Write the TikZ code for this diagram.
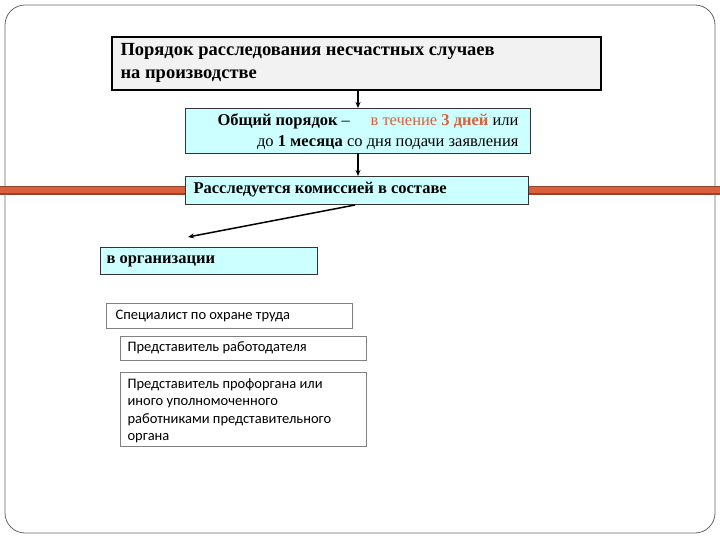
\documentclass[tikz,border=0pt]{standalone}
\usepackage{fontspec}
\setmainfont{Liberation Serif}
\newfontfamily\calfnt{Carlito}
\usetikzlibrary{arrows.meta}
\definecolor{cy}{HTML}{CCFFFF}
\definecolor{orng}{HTML}{D9603B}
\tikzset{
 cbox/.style={draw=black!80,fill=cy,line width=0.8pt,inner sep=0pt},
 wbox/.style={draw=black!50,fill=white,line width=0.6pt,inner sep=0pt},
 arr/.style={-{Stealth[length=6pt,width=5pt]},line width=1.2pt}
}
\begin{document}
\begin{tikzpicture}[x=1pt,y=-1pt]
\useasboundingbox (0,0) rectangle (720,540);
\draw[black!60,line width=0.8pt,rounded corners=20pt,fill=white] (5,5) rectangle (715,533);
\fill[orng] (0,186) rectangle (720,195);
\fill[orng!70!black] (0,186) rectangle (720,187.5);
\fill[orng!70!black] (0,193.5) rectangle (720,195);
% boxes
\draw[fill=black!5,line width=2pt] (112,37) rectangle (601,90);
\node[anchor=north west,align=left,font=\bfseries\fontsize{18.5}{23}\selectfont] (t) at (117,40) {Порядок расследования несчастных случаев\\на производстве};
\coordinate (tb) at (358,90);
\draw[cbox] (185,108) rectangle (530,153);
\node[anchor=north east,align=right,font=\fontsize{16.5}{21}\selectfont] (g) at (522,110) {\textbf{Общий порядок} -- \quad \textcolor{orng}{в течение \textbf{3 дней}} или\\до \textbf{1 месяца} со дня подачи заявления};
\coordinate (gt) at (358,108);
\coordinate (gb) at (358,153);
\draw[cbox] (185,176) rectangle (528,204);
\node[anchor=west,font=\bfseries\fontsize{16.5}{20}\selectfont] (r) at (190,190) {Расследуется комиссией в составе};
\coordinate (rt) at (358,176);
\coordinate (rb) at (355,205);
\draw[cbox] (100,247) rectangle (317,274);
\node[anchor=west,font=\bfseries\fontsize{16.5}{20}\selectfont] (o) at (103,261) {в организации};
\coordinate (ot) at (188,237);
\draw[wbox] (106,303) rectangle (352,328);
\node[anchor=west,font=\calfnt\fontsize{14.5}{17}\selectfont] (s1) at (112,316) {Специалист по охране труда};
\draw[wbox] (120,336) rectangle (366,360);
\node[anchor=west,font=\calfnt\fontsize{14.5}{17}\selectfont] (s2) at (124,348) {Представитель работодателя};
\draw[wbox] (120,372) rectangle (366,446);
\node[anchor=north west,align=left,font=\calfnt\fontsize{14.5}{17.5}\selectfont] (s3) at (124,375) {Представитель профоргана или\\иного уполномоченного\\работниками представительного\\органа};
\draw[arr] (tb) -- (gt);
\draw[arr] (gb) -- (rt);
\draw[arr,line width=1.5pt] (rb) -- (ot);
\end{tikzpicture}
\end{document}
